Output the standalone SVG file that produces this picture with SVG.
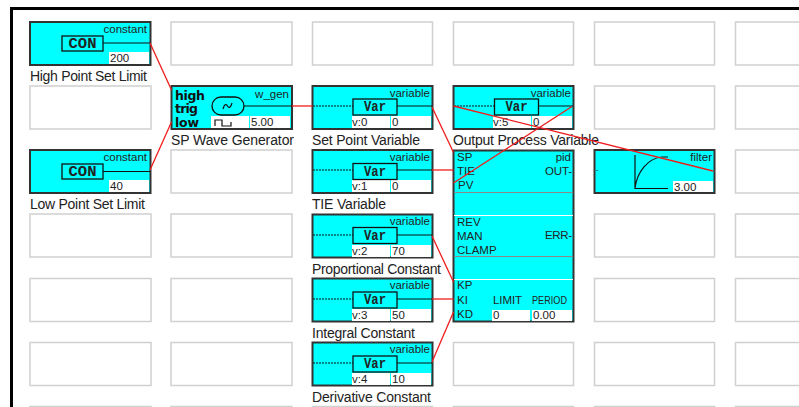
<svg xmlns="http://www.w3.org/2000/svg" width="799" height="407" viewBox="0 0 799 407">
<style>
text{font-family:"Liberation Sans",Arial,sans-serif;fill:#222}
.e{fill:#fff;stroke:#d0d0d0;stroke-width:1.5}
.b{fill:#00ffff;stroke:#333;stroke-width:2}
.w{fill:#fff;stroke:none}
.l{font-size:14px}
.s{font-size:11.5px}
.r{text-anchor:end}
.k{font-family:"Liberation Mono",monospace;font-weight:700;font-size:14px;text-anchor:middle}
.h{font-family:"DejaVu Sans",sans-serif;font-weight:700;font-size:12.5px;fill:#111}
.ln{stroke:#111;stroke-width:1.2;fill:none}
.d{stroke:#111;stroke-width:1;stroke-dasharray:2 1;fill:none}
.ib{fill:#00ffff;stroke:#111;stroke-width:1.3}
.c{stroke:#f01c1c;stroke-width:1.3;fill:none}
.sep{stroke:#888;stroke-width:1}
.sw{stroke:#fff;stroke-width:1}
</style>
<g id="frame"><rect x="10" y="7" width="789" height="3" fill="#000"/><rect x="10" y="10" width="3" height="397" fill="#000"/></g>
<g id="empty-cells">
<rect class="e" x="171" y="22" width="121" height="43"/><rect class="e" x="312.500" y="22" width="120" height="43"/><rect class="e" x="453.500" y="22" width="120" height="43"/><rect class="e" x="594.500" y="22" width="120" height="43"/><rect class="e" x="735.500" y="22" width="121" height="43"/>
<rect class="e" x="30" y="86" width="121" height="43"/><rect class="e" x="594.500" y="86" width="120" height="43"/><rect class="e" x="735.500" y="86" width="121" height="43"/>
<rect class="e" x="171" y="150" width="121" height="43"/><rect class="e" x="735.500" y="150" width="121" height="43"/>
<rect class="e" x="30" y="214" width="121" height="43"/><rect class="e" x="171" y="214" width="121" height="43"/><rect class="e" x="594.500" y="214" width="120" height="43"/><rect class="e" x="735.500" y="214" width="121" height="43"/>
<rect class="e" x="30" y="278.500" width="121" height="43"/><rect class="e" x="171" y="278.500" width="121" height="43"/><rect class="e" x="594.500" y="278.500" width="120" height="43"/><rect class="e" x="735.500" y="278.500" width="121" height="43"/>
<rect class="e" x="30" y="342.500" width="121" height="43"/><rect class="e" x="171" y="342.500" width="121" height="43"/><rect class="e" x="453.500" y="342.500" width="120" height="43"/><rect class="e" x="594.500" y="342.500" width="120" height="43"/><rect class="e" x="735.500" y="342.500" width="121" height="43"/>
<rect class="e" x="30" y="406.500" width="121" height="43"/><rect class="e" x="171" y="406.500" width="121" height="43"/><rect class="e" x="312.500" y="406.500" width="120" height="43"/><rect class="e" x="453.500" y="406.500" width="120" height="43"/><rect class="e" x="594.500" y="406.500" width="120" height="43"/><rect class="e" x="735.500" y="406.500" width="121" height="43"/>
</g>
<g id="high-limit">
<rect class="b" x="30" y="22" width="120.500" height="43"/><rect class="w" x="109" y="52" width="40" height="12"/>
<rect class="ib" x="62" y="36" width="41" height="15"/><path class="ln" d="M103 43H150"/>
<text class="k" x="82.500" y="48" textLength="28" lengthAdjust="spacingAndGlyphs">CON</text><text class="s r" x="147" y="33">constant</text><text class="s" x="110" y="62">200</text>
<text class="l" x="30" y="81" textLength="117">High Point Set Limit</text>
</g>
<g id="low-limit">
<rect class="b" x="30" y="150" width="120.500" height="43"/><rect class="w" x="109" y="180" width="40" height="12"/>
<rect class="ib" x="62" y="164" width="41" height="15"/><path class="ln" d="M103 171.500H150"/>
<text class="k" x="82.500" y="176" textLength="28" lengthAdjust="spacingAndGlyphs">CON</text><text class="s r" x="147" y="161">constant</text><text class="s" x="110" y="190">40</text>
<text class="l" x="30" y="209" textLength="115">Low Point Set Limit</text>
</g>
<g id="wave-generator">
<rect class="b" x="171.500" y="86" width="120.500" height="43"/><rect class="w" x="211" y="116" width="38" height="12"/><rect class="w" x="250" y="116" width="40" height="12"/>
<rect class="ib" x="212" y="97" width="32" height="18" rx="9"/><path class="ln" d="M244 106H292"/>
<path class="ln" d="M223 109q2-7 4.500-3t4.500-3"/><path class="ln" d="M215 126V120H222V126H231V122"/>
<text class="h" x="175" y="99.500" textLength="30">high</text><text class="h" x="175" y="113" textLength="23">trig</text><text class="h" x="175" y="126.500" textLength="24">low</text>
<text class="s r" x="289" y="98">w_gen</text><text class="s" x="251" y="126">5.00</text>
<text class="l" x="171" y="145" textLength="123">SP Wave Generator</text>
</g>
<g id="set-point-var">
<rect class="b" x="312.500" y="86" width="120" height="43"/><rect class="w" x="352" y="116" width="38" height="12"/><rect class="w" x="391" y="116" width="40" height="12"/>
<rect class="ib" x="353" y="99" width="44" height="16"/><path class="d" d="M313 106H353"/><path class="ln" d="M397 106H432"/>
<text class="k" x="375" y="111" textLength="22" lengthAdjust="spacingAndGlyphs">Var</text><text class="s r" x="430" y="97">variable</text><text class="s" x="352" y="126">v:0</text><text class="s" x="392" y="126">0</text>
<text class="l" x="312" y="145" textLength="108">Set Point Variable</text>
</g>
<g id="tie-var">
<rect class="b" x="312.500" y="150" width="120" height="43"/><rect class="w" x="352" y="180" width="38" height="12"/><rect class="w" x="391" y="180" width="40" height="12"/>
<rect class="ib" x="353" y="163.500" width="44" height="16"/><path class="d" d="M313 170H353"/><path class="ln" d="M397 170H432"/>
<text class="k" x="375" y="175.500" textLength="22" lengthAdjust="spacingAndGlyphs">Var</text><text class="s r" x="430" y="161">variable</text><text class="s" x="352" y="190">v:1</text><text class="s" x="392" y="190">0</text>
<text class="l" x="312" y="209" textLength="74">TIE Variable</text>
</g>
<g id="proportional-var">
<rect class="b" x="312.500" y="214.500" width="120" height="43"/><rect class="w" x="352" y="245" width="38" height="12"/><rect class="w" x="391" y="245" width="40" height="12"/>
<rect class="ib" x="353" y="227.500" width="44" height="16"/><path class="d" d="M313 235H353"/><path class="ln" d="M397 235H432"/>
<text class="k" x="375" y="240" textLength="22" lengthAdjust="spacingAndGlyphs">Var</text><text class="s r" x="430" y="225">variable</text><text class="s" x="352" y="255">v:2</text><text class="s" x="392" y="255">70</text>
<text class="l" x="312" y="274" textLength="129">Proportional Constant</text>
</g>
<g id="integral-var">
<rect class="b" x="312.500" y="278.500" width="120" height="43"/><rect class="w" x="352" y="309" width="38" height="12"/><rect class="w" x="391" y="309" width="40" height="12"/>
<rect class="ib" x="353" y="292" width="44" height="16"/><path class="d" d="M313 299H353"/><path class="ln" d="M397 299H432"/>
<text class="k" x="375" y="304" textLength="22" lengthAdjust="spacingAndGlyphs">Var</text><text class="s r" x="430" y="289">variable</text><text class="s" x="352" y="319">v:3</text><text class="s" x="392" y="319">50</text>
<text class="l" x="312" y="338" textLength="103">Integral Constant</text>
</g>
<g id="derivative-var">
<rect class="b" x="312.500" y="342.500" width="120" height="43"/><rect class="w" x="352" y="373" width="38" height="12"/><rect class="w" x="391" y="373" width="40" height="12"/>
<rect class="ib" x="353" y="356" width="44" height="16"/><path class="d" d="M313 363H353"/><path class="ln" d="M397 363H432"/>
<text class="k" x="375" y="368" textLength="22" lengthAdjust="spacingAndGlyphs">Var</text><text class="s r" x="430" y="353">variable</text><text class="s" x="352" y="383">v:4</text><text class="s" x="392" y="383">10</text>
<text class="l" x="312" y="402" textLength="119">Derivative Constant</text>
</g>
<g id="output-var">
<rect class="b" x="453.500" y="86" width="120" height="43"/><rect class="w" x="493" y="116" width="38" height="12"/><rect class="w" x="532" y="116" width="40" height="12"/>
<rect class="ib" x="494.500" y="99" width="44" height="16"/><path class="d" d="M454 106H494"/><path class="ln" d="M538 106H573"/>
<text class="k" x="516.500" y="111" textLength="22" lengthAdjust="spacingAndGlyphs">Var</text><text class="s r" x="571" y="97">variable</text><text class="s" x="493" y="126">v:5</text><text class="s" x="533" y="126">0</text>
<text class="l" x="453" y="145" textLength="146">Output Process Variable</text>
</g>
<g id="pid">
<rect class="b" x="453.500" y="150.500" width="120" height="171"/>
<path class="sep" d="M454 192.500H573M454 256.500H573"/><path class="sw" d="M454 215.500H573M454 279.500H573"/>
<rect class="w" x="492" y="310" width="38" height="11"/><rect class="w" x="532" y="310" width="40" height="11"/>
<text class="s" x="457" y="161">SP</text><text class="s" x="457" y="175">TIE</text><text class="s" x="458" y="189">PV</text>
<text class="s r" x="571" y="161">pid</text><text class="s" x="545" y="175" textLength="27">OUT-</text>
<text class="s" x="457" y="226">REV</text><text class="s" x="457" y="240">MAN</text><text class="s" x="457" y="254">CLAMP</text>
<text class="s" x="545" y="239" textLength="27">ERR-</text>
<text class="s" x="457" y="289">KP</text><text class="s" x="457" y="304">KI</text><text class="s" x="457" y="318">KD</text>
<text class="s" x="493" y="304" textLength="29">LIMIT</text><text class="s" x="532" y="304" textLength="35" lengthAdjust="spacingAndGlyphs">PERIOD</text><text class="s" x="493" y="319">0</text><text class="s" x="533" y="319">0.00</text>
</g>
<g id="filter">
<rect class="b" x="594.500" y="150" width="120" height="43"/><rect class="w" x="673" y="181" width="40" height="11"/>
<path class="ln" d="M635 155V188.500H668M635 188C637 172 648 158 662 157H668M596.500 170.500H597.500"/>
<text class="s r" x="712" y="161">filter</text><text class="s" x="674" y="191">3.00</text>
</g>
<g id="connectors">
<path class="c" d="M150 43L171.500 90"/>
<path class="c" d="M150 170L171.500 122"/>
<path class="c" d="M292 106H312.500"/>
<path class="c" d="M432 107L453.500 152.500"/>
<path class="c" d="M432 170H453.500"/>
<path class="c" d="M453.500 183L572 106.500"/>
<path class="c" d="M453.500 106L713 171"/>
<path class="c" d="M432 236L453.500 282"/>
<path class="c" d="M432 299H453.500"/>
<path class="c" d="M432 362L453.500 312"/>
</g>
</svg>
